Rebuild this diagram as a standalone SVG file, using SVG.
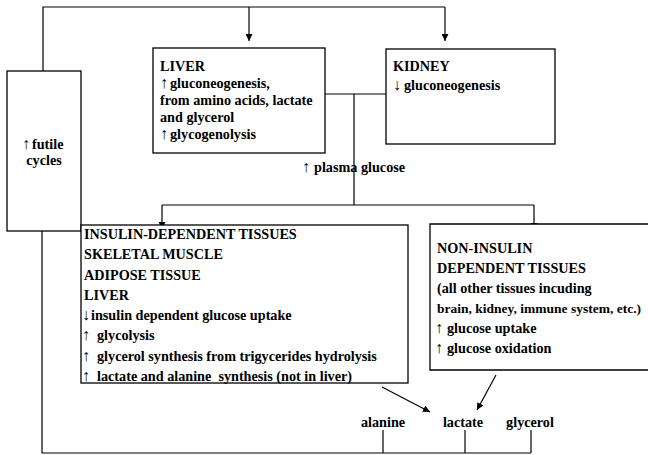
<svg xmlns="http://www.w3.org/2000/svg" width="648" height="455" viewBox="0 0 648 455">
<defs>
<marker id="ah" viewBox="0 0 10 10" refX="10" refY="5" markerWidth="7" markerHeight="7" markerUnits="userSpaceOnUse" orient="auto">
<path d="M0,0 L10,5 L0,10 Z" fill="#000"/>
</marker>
<style>
.box{fill:#fff;stroke:#000;stroke-width:1.3}
.ln{fill:none;stroke:#000;stroke-width:1.2}
.arr{fill:none;stroke:#000;stroke-width:1.2;marker-end:url(#ah)}
text{font-family:"Liberation Serif","Times New Roman",serif;font-weight:bold;font-size:14.2px;fill:#000}
.ar{font-weight:normal;font-size:16px}
.c{text-anchor:middle}
</style>
</defs>
<rect width="648" height="455" fill="#fff"/>
<g id="connectors">
<path class="ln" d="M43,71 V7 H445"/>
<path class="arr" d="M249,7 V41"/>
<path class="arr" d="M445,7 V41"/>
<path class="ln" d="M325,94 H386"/>
<path class="ln" d="M354,94 V205"/>
<path class="ln" d="M162,205 H534"/>
<path class="arr" d="M162,205 V229"/>
<path class="arr" d="M534,205 V230"/>
<path class="ln" d="M42,231 V453 H531"/>
<path class="ln" d="M383,430 V453"/>
<path class="ln" d="M465,430 V453"/>
<path class="ln" d="M531,430 V453"/>
<path class="arr" d="M382,387 L430,412"/>
<path class="arr" d="M496,375 L477,410"/>
</g>
<g id="futile">
<rect class="box" x="7" y="71" width="74" height="160"/>
<text x="22" y="149"><tspan class="ar">↑</tspan><tspan x="32">futile</tspan></text>
<text class="c" x="44" y="165">cycles</text>
</g>
<g id="liver">
<rect class="box" x="153" y="48" width="172" height="105"/>
<text x="160" y="71">LIVER</text>
<text x="160" y="88"><tspan class="ar">↑</tspan><tspan x="170">gluconeogenesis,</tspan></text>
<text x="160" y="105">from amino acids, lactate</text>
<text x="160" y="122">and glycerol</text>
<text x="160" y="139"><tspan class="ar">↑</tspan><tspan x="170">glycogenolysis</tspan></text>
</g>
<g id="kidney">
<rect class="box" x="386" y="49" width="169" height="95"/>
<text x="393" y="71">KIDNEY</text>
<text x="393" y="90"><tspan class="ar">↓</tspan><tspan x="404">gluconeogenesis</tspan></text>
</g>
<g id="plasma">
<text x="302" y="172"><tspan class="ar">↑</tspan><tspan x="314">plasma glucose</tspan></text>
</g>
<g id="insulin-dependent">
<rect class="box" x="81" y="225" width="327" height="158"/>
<text x="84" y="239">INSULIN-DEPENDENT TISSUES</text>
<text x="84" y="259">SKELETAL MUSCLE</text>
<text x="84" y="280">ADIPOSE TISSUE</text>
<text x="84" y="300">LIVER</text>
<text x="82" y="320"><tspan class="ar">↓</tspan><tspan x="91">insulin dependent glucose uptake</tspan></text>
<text x="82" y="340"><tspan class="ar">↑</tspan><tspan x="97">glycolysis</tspan></text>
<text x="82" y="361"><tspan class="ar">↑</tspan><tspan x="97">glycerol synthesis from trigycerides hydrolysis</tspan></text>
<text x="82" y="381"><tspan class="ar">↑</tspan><tspan x="97" style="white-space:pre">lactate and alanine  synthesis (not in liver)</tspan></text>
</g>
<g id="non-insulin">
<path class="box" d="M648,224 H430 V370 H648"/>
<text x="437" y="253">NON-INSULIN</text>
<text x="437" y="273">DEPENDENT TISSUES</text>
<text x="437" y="293">(all other tissues incuding</text>
<text x="437" y="313" style="font-size:13.5px">brain, kidney, immune system, etc.)</text>
<text x="435" y="333"><tspan class="ar">↑</tspan><tspan x="447">glucose uptake</tspan></text>
<text x="435" y="353"><tspan class="ar">↑</tspan><tspan x="447">glucose oxidation</tspan></text>
</g>
<g id="metabolites">
<text class="c" x="383" y="427">alanine</text>
<text class="c" x="463" y="427">lactate</text>
<text class="c" x="530" y="427">glycerol</text>
</g>
</svg>
